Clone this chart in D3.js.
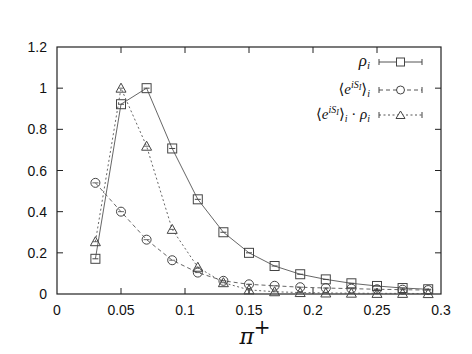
<!DOCTYPE html>
<html><head><meta charset="utf-8">
<script src="https://cdn.jsdelivr.net/npm/d3@7"></script>
<style>body{margin:0;background:#fff}</style>
</head><body>
<svg id="c" width="472" height="354"></svg>
<script>
const xValues = [0.03,0.05,0.07,0.09,0.11,0.13,0.15,0.17,0.19,0.21,0.23,0.25,0.27,0.29];
const rho = [0.171,0.922,1.0,0.707,0.46,0.30,0.20,0.136,0.096,0.071,0.052,0.039,0.029,0.023];
const phase = [0.54,0.40,0.264,0.164,0.104,0.064,0.047,0.040,0.033,0.029,0.026,0.023,0.021,0.019];
const product = [0.254,1.0,0.718,0.314,0.13,0.055,0.02,0.011,0.007,0.005,0.004,0.003,0.003,0.002];
const xTicks = [0,0.05,0.1,0.15,0.2,0.25,0.3];
const yTicks = [0,0.2,0.4,0.6,0.8,1,1.2];

const svg = d3.select("#c");
const L=57, R=441, T=47, B=294;
const x = d3.scaleLinear().domain([0,0.3]).range([L,R]);
const y = d3.scaleLinear().domain([0,1.2]).range([B,T]);
const col = "#444";
const lcol = "#555";
const font = "Liberation Sans, Arial, sans-serif";

// frame
svg.append("rect").attr("x",L).attr("y",T).attr("width",R-L).attr("height",B-T)
  .attr("fill","none").attr("stroke","#222").attr("stroke-width",1.2);

// ticks (inward, mirrored)
const tl = 6;
xTicks.forEach(v=>{
  if(v===0||v===0.3) return;
  svg.append("line").attr("x1",x(v)).attr("x2",x(v)).attr("y1",B).attr("y2",B-tl).attr("stroke","#222");
  svg.append("line").attr("x1",x(v)).attr("x2",x(v)).attr("y1",T).attr("y2",T+tl).attr("stroke","#222");
});
yTicks.forEach(v=>{
  if(v===0||v===1.2) return;
  svg.append("line").attr("x1",L).attr("x2",L+tl).attr("y1",y(v)).attr("y2",y(v)).attr("stroke","#222");
  svg.append("line").attr("x1",R).attr("x2",R-tl).attr("y1",y(v)).attr("y2",y(v)).attr("stroke","#222");
});
xTicks.forEach(v=>{
  svg.append("text").attr("x",x(v)).attr("y",B+21).attr("text-anchor","middle")
    .attr("font-family",font).attr("font-size",14).attr("fill","#111").text(String(v));
});
yTicks.forEach(v=>{
  svg.append("text").attr("x",L-10).attr("y",y(v)+5).attr("text-anchor","end")
    .attr("font-family",font).attr("font-size",14).attr("fill","#111").text(String(v));
});
// x label
const xl = svg.append("text").attr("x",x(0.15)+6).attr("y",344).attr("text-anchor","middle")
  .attr("font-family","DejaVu Serif, serif").attr("font-size",22).attr("fill","#111");
xl.append("tspan").attr("font-style","italic").text("π");
xl.append("tspan").attr("dy",-10).attr("font-size",20).text("+");

// series
const series = [
  {name:"rho", vals:rho, dash:null, sym:"square"},
  {name:"phase", vals:phase, dash:"4,3", sym:"circle"},
  {name:"prod", vals:product, dash:"2,2.5", sym:"triangle"}
];
function drawSym(g, sym, cx, cy){
  if(sym==="square"){
    g.append("rect").attr("x",cx-4.5).attr("y",cy-4.5).attr("width",9).attr("height",9)
      .attr("fill","none").attr("stroke",col).attr("stroke-width",1);
    g.append("line").attr("x1",cx-3).attr("x2",cx+3).attr("y1",cy).attr("y2",cy).attr("stroke",col);
  } else if(sym==="circle"){
    g.append("circle").attr("cx",cx).attr("cy",cy).attr("r",4.5)
      .attr("fill","none").attr("stroke",col).attr("stroke-width",1);
    g.append("line").attr("x1",cx-3).attr("x2",cx+3).attr("y1",cy).attr("y2",cy).attr("stroke",col).attr("stroke-width",0.8);
  } else {
    g.append("path").attr("d",`M${cx},${cy-5}L${cx+5},${cy+4}L${cx-5},${cy+4}Z`)
      .attr("fill","none").attr("stroke",col).attr("stroke-width",1);
    g.append("line").attr("x1",cx-2.5).attr("x2",cx+2.5).attr("y1",cy).attr("y2",cy).attr("stroke",col).attr("stroke-width",0.8);
  }
}
const line = d3.line().x((d,i)=>x(xValues[i])).y(d=>y(d));
series.forEach(s=>{
  const p = svg.append("path").attr("d",line(s.vals)).attr("fill","none").attr("stroke",lcol).attr("stroke-width",0.9);
  if(s.dash) p.attr("stroke-dasharray",s.dash);
  const g = svg.append("g");
  s.vals.forEach((v,i)=>drawSym(g,s.sym,x(xValues[i]),y(v)));
});
// small error bar on triangle at 0.15
svg.append("line").attr("x1",x(0.15)).attr("x2",x(0.15)).attr("y1",y(product[6])).attr("y2",B).attr("stroke",col);

// legend
const legY = [62, 90, 115];
const lx1 = 379, lx2 = 422, ltx = 370;
series.forEach((s,k)=>{
  const yy = legY[k];
  const p = svg.append("line").attr("x1",lx1).attr("x2",lx2).attr("y1",yy).attr("y2",yy).attr("stroke",lcol);
  if(s.dash) p.attr("stroke-dasharray",s.dash);
  [lx1,lx2].forEach(xx=>svg.append("line").attr("x1",xx).attr("x2",xx).attr("y1",yy-3).attr("y2",yy+3).attr("stroke",col));
  const g = svg.append("g");
  if(s.sym==="square"){
    g.append("rect").attr("x",(lx1+lx2)/2-4).attr("y",yy-4).attr("width",8).attr("height",8).attr("fill","#fff").attr("stroke",col);
  } else if(s.sym==="circle"){
    g.append("circle").attr("cx",(lx1+lx2)/2).attr("cy",yy).attr("r",4).attr("fill","#fff").attr("stroke",col);
  } else {
    const cx=(lx1+lx2)/2;
    g.append("path").attr("d",`M${cx},${yy-4}L${cx+4.5},${yy+3.5}L${cx-4.5},${yy+3.5}Z`).attr("fill","#fff").attr("stroke",col);
  }
});
const mf = "Liberation Serif, DejaVu Serif, serif";
function legText(yy, build){
  const t = svg.append("text").attr("x",ltx).attr("y",yy+4).attr("text-anchor","end")
    .attr("font-family",mf).attr("font-size",15).attr("fill","#111");
  build(t);
}
legText(legY[0], t=>{
  t.append("tspan").attr("font-style","italic").attr("font-size",17).text("ρ");
  t.append("tspan").attr("font-style","italic").attr("font-size",11).attr("dy",3).text("i");
});
function bracket(t){
  t.append("tspan").text("⟨");
  t.append("tspan").attr("font-style","italic").text("e");
  t.append("tspan").attr("font-style","italic").attr("font-size",10).attr("dy",-6).text("iS");
  t.append("tspan").attr("font-style","italic").attr("font-size",8).attr("dy",2).text("I");
  t.append("tspan").attr("dy",4).text("⟩");
  t.append("tspan").attr("font-style","italic").attr("font-size",10).attr("dy",3).text("i");
}
legText(legY[1], t=>{ bracket(t); });
legText(legY[2], t=>{
  bracket(t);
  t.append("tspan").attr("dy",-3).text(" · ");
  t.append("tspan").attr("font-style","italic").text("ρ");
  t.append("tspan").attr("font-style","italic").attr("font-size",10).attr("dy",3).text("i");
});
</script>
</body></html>
